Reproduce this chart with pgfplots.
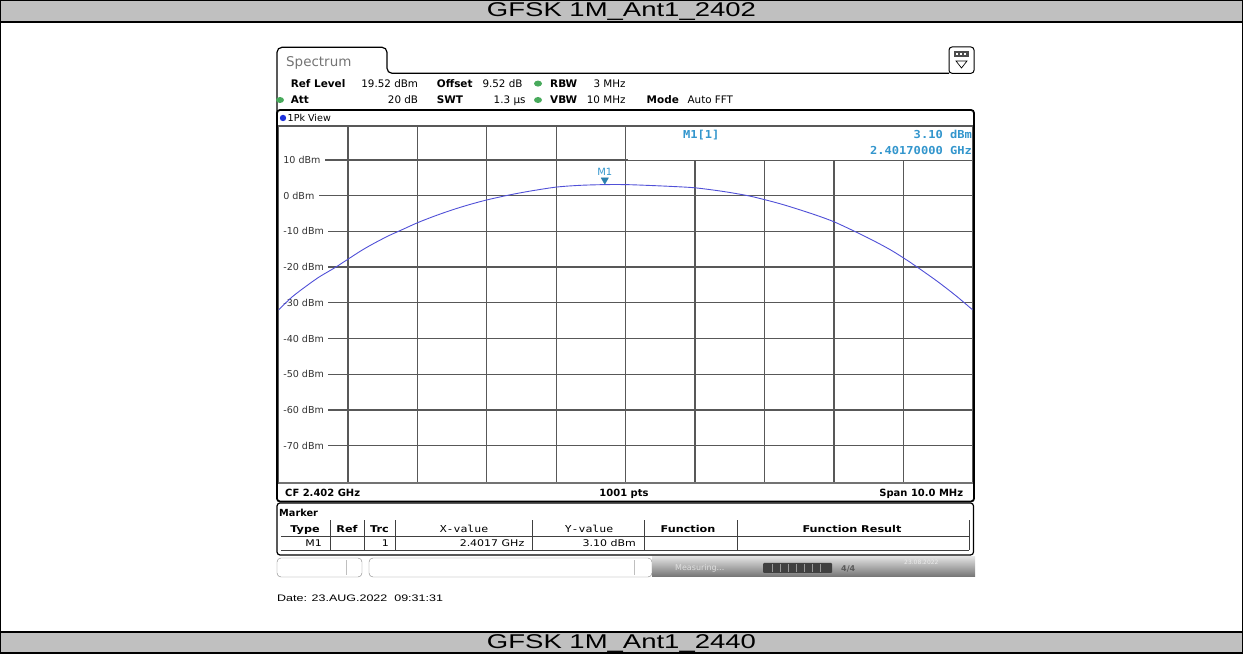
\documentclass[border=0pt]{standalone}
\usepackage{fontspec}
\usepackage{pgfplots}
\pgfplotsset{compat=1.18}
\setmainfont{DejaVu Sans}
\newfontfamily\dv{DejaVu Sans}
\newfontfamily\dvm{DejaVu Sans Mono}
\newfontfamily\tb[FakeStretch=1.2]{DejaVu Sans}
\newfontfamily\tbm[FakeStretch=1.2]{DejaVu Sans Mono}
\newfontfamily\mk[FakeStretch=1.1]{DejaVu Sans Mono}
\newfontfamily\hdr[FakeStretch=1.38]{Liberation Sans}
\newfontfamily\dt[FakeStretch=1.32]{Liberation Sans}
\newcommand\fs[1]{\fontsize{#1}{#1}\selectfont}
\definecolor{hgray}{RGB}{192,192,192}
\definecolor{gridc}{RGB}{88,88,88}
\definecolor{mkc}{RGB}{51,150,205}
\definecolor{trc}{RGB}{80,80,215}
\definecolor{grn}{RGB}{72,170,92}
\definecolor{bdot}{RGB}{30,50,220}
\begin{document}
\begin{tikzpicture}[
  tx/.style={inner sep=0pt, anchor=base west},
  txr/.style={inner sep=0pt, anchor=base east},
  txc/.style={inner sep=0pt, anchor=base},
  lab/.style={anchor=west, fill=white, inner xsep=4.5bp, inner ysep=0.6bp, xshift=0.1bp, font=\dv\fs{9.6}, text=black!80}]
\begin{scope}[x=1bp,y=1bp]
\path[use as bounding box] (0,0) rectangle (1243,654);
% title bands
\fill[hgray] (0,632) rectangle (1243,654);
\fill[hgray] (0,0) rectangle (1243,22);
\draw[line width=1.5bp] (0,632)--(1243,632);
\draw[line width=1.5bp] (0,22)--(1243,22);
\draw[line width=1.5bp] (0.75,0.75) rectangle (1242.25,653.25);
\node[txc, font=\hdr\fs{20}] at (621.5,637.6) {GFSK 1M\_Ant1\_2402};
\node[txc, font=\hdr\fs{20}] at (621.5,5.6) {GFSK 1M\_Ant1\_2440};
% tab
\draw[line width=1.2bp, rounded corners=5bp] (277,540) -- (277,606.7) -- (387,606.7) -- (387,580.7) -- (949,580.7);
\node[tx, font=\dv\fs{13.5}, text=black!55] at (286,587.4) {Spectrum};
% icon
\draw[line width=1bp, rounded corners=3bp] (949,580.7) rectangle (974,607);
\fill[black!70] (954,597) rectangle (969,603);
\fill[white] (956,599) rectangle (958,601);
\fill[white] (960,599) rectangle (962,601);
\fill[white] (964,599) rectangle (966,601);
\draw[line width=0.7bp] (956,593)--(967,593)--(961.5,586)--cycle;
% info lines
\node[tx, font=\dv\bfseries\fs{10.5}] at (290.6,566.7) {Ref Level};
\node[txr, font=\dv\fs{10.4}] at (418.3,566.7) {19.52 dBm};
\node[tx, font=\dv\bfseries\fs{10.5}] at (436.7,566.7) {Offset};
\node[tx, font=\dv\fs{10.4}] at (482.3,566.7) {9.52 dB};
\fill[grn] (538,570.4) ellipse (4 and 3);
\node[tx, font=\dv\bfseries\fs{10.5}] at (550,566.7) {RBW};
\node[tx, font=\dv\fs{10.4}] at (593.3,566.7) {3 MHz};
\fill[grn] (280,554) ellipse (4 and 3);
\node[tx, font=\dv\bfseries\fs{10.5}] at (290.6,550.2) {Att};
\node[txr, font=\dv\fs{10.4}] at (418.3,550.2) {20 dB};
\node[tx, font=\dv\bfseries\fs{10.5}] at (436.7,550.2) {SWT};
\node[txr, font=\dv\fs{10.4}] at (525.7,550.2) {1.3 µs};
\fill[grn] (538,554) ellipse (4 and 3);
\node[tx, font=\dv\bfseries\fs{10.5}] at (550,550.2) {VBW};
\node[tx, font=\dv\fs{10.4}] at (586.7,550.2) {10 MHz};
\node[tx, font=\dv\bfseries\fs{10.5}] at (646.5,550.2) {Mode};
\node[tx, font=\dv\fs{10.4}] at (687.4,550.2) {Auto FFT};
% panel
\draw[line width=1.8bp, rounded corners=3bp] (277,152.5) rectangle (974,544);
\fill[bdot] (283,536) circle (3.2);
\node[tx, font=\dv\fs{9.6}] at (287.5,532.6) {1Pk View};
\end{scope}
% spectrum axis (x = frequency in MHz)
\begin{axis}[at={(278.5bp,171bp)}, anchor=south west, scale only axis,
  width=694.2bp, height=357bp,
  xmin=2397, xmax=2407, ymin=-80.48, ymax=19.52,
  xtick={2398,2399,2400,2401,2402,2403,2404,2405,2406}, ytick={-70,-60,-50,-40,-30,-20,-10,0,10},
  xticklabels={}, yticklabels={}, major tick length=0pt,
  grid=major, grid style={draw=gridc, line width=1.3bp},
  axis line style={draw=gridc, line width=1.3bp},
  clip=true]
\node[lab] at (axis cs:2397,10) {10 dBm};
\node[lab] at (axis cs:2397,0) {0 dBm};
\node[lab] at (axis cs:2397,-10) {-10 dBm};
\node[lab] at (axis cs:2397,-20) {-20 dBm};
\node[lab] at (axis cs:2397,-30) {-30 dBm};
\node[lab] at (axis cs:2397,-40) {-40 dBm};
\node[lab] at (axis cs:2397,-50) {-50 dBm};
\node[lab] at (axis cs:2397,-60) {-60 dBm};
\node[lab] at (axis cs:2397,-70) {-70 dBm};
\addplot[trc, line width=0.9bp, smooth] coordinates {
(2397.00,-32.0) (2397.20,-28.3) (2397.43,-24.9) (2397.60,-22.6) (2397.81,-20.2)
(2398.00,-17.8) (2398.20,-15.3) (2398.39,-13.2) (2398.60,-11.1) (2398.75,-9.8)
(2399.00,-7.6) (2399.25,-5.7) (2399.50,-4.0) (2399.75,-2.5) (2400.00,-1.2)
(2400.30,0.1) (2400.60,1.2) (2401.00,2.4) (2401.35,2.9) (2401.70,3.1)
(2402.00,3.1) (2402.30,2.9) (2402.65,2.6) (2403.00,2.2) (2403.40,1.2)
(2403.76,0.0) (2404.00,-1.1) (2404.25,-2.4) (2404.50,-3.9) (2404.75,-5.5)
(2405.00,-7.3) (2405.30,-10.0) (2405.54,-12.3) (2405.80,-15.0) (2406.00,-17.4)
(2406.20,-20.0) (2406.49,-24.0) (2406.75,-27.9) (2407.00,-32.0)};
\addplot[only marks, mark=triangle*, mark size=4.2bp,
  mark options={yshift=4.6bp, rotate=180, fill=mkc!85!black, draw=mkc!85!black}]
  coordinates {(2401.7,3.1)};
\node[txc, font=\dv\fs{10}, text=mkc, yshift=9.6bp] at (axis cs:2401.7,3.1) {M1};
\end{axis}
\begin{scope}[x=1bp,y=1bp]
% marker info area
\fill[white] (627.9,494.3) rectangle (972,527.3);
\node[tx, font=\mk\bfseries\fs{11}, text=mkc] at (683,515) {M1[1]};
\node[txr, font=\mk\bfseries\fs{11}, text=mkc] at (972,515) {3.10 dBm};
\node[txr, font=\mk\bfseries\fs{11}, text=mkc] at (972,499) {2.40170000 GHz};
\draw[line width=2.6bp, black!55] (278.5,171)--(973,171);
% CF row
\node[tx, font=\dv\bfseries\fs{10}] at (285,157.5) {CF 2.402 GHz};
\node[txc, font=\dv\bfseries\fs{10}] at (624,157.5) {1001 pts};
\node[txr, font=\dv\bfseries\fs{10}] at (963.3,157.5) {Span 10.0 MHz};
% marker table
\draw[line width=1.2bp, rounded corners=3bp] (277,99) rectangle (973.5,151);
\node[tx, font=\dv\bfseries\fs{9.8}] at (279,137.7) {Marker};
\draw[black!75, line width=0.8bp] (281,118) -- (969,118);
\draw[black!75, line width=0.8bp] (281,104) -- (969,104);
\foreach \xx in {330,364,395,532.7,644.3,737.7,969} {\draw[black!75, line width=0.8bp] (\xx,133.5) -- (\xx,104);}
\node[txc, font=\tb\bfseries\fs{9.4}] at (305,121.8) {Type};
\node[txc, font=\tb\bfseries\fs{9.4}] at (347,121.8) {Ref};
\node[txc, font=\tb\bfseries\fs{9.4}] at (379.5,121.8) {Trc};
\node[txc, font=\tbm\fs{9.6}] at (464,121.8) {X-value};
\node[txc, font=\tbm\fs{9.6}] at (589,121.8) {Y-value};
\node[txc, font=\tb\bfseries\fs{9.4}] at (688,121.8) {Function};
\node[txc, font=\tb\bfseries\fs{9.4}] at (852,121.8) {Function Result};
\node[txr, font=\tb\fs{9.2}] at (322,107) {M1};
\node[txr, font=\tb\fs{9.2}] at (389,107) {1};
\node[txr, font=\tb\fs{9.2}] at (524.5,107) {2.4017 GHz};
\node[txr, font=\tb\fs{9.2}] at (636,107) {3.10 dBm};
% status bar
\draw[black!50, rounded corners=4bp, fill=white] (277,77) rectangle (362,96);
\draw[black!25] (346,79)--(346,94);
\draw[black!50, rounded corners=4bp, fill=white] (369,77) rectangle (652,96);
\draw[black!25] (634,79)--(634,94);
\shade[top color=black!12, bottom color=black!55] (652,77) rectangle (975,97);
\node[tx, font=\dv\fs{8}, text=white!75!gray] at (675,83) {Measuring...};
\fill[black!75, rounded corners=1bp] (763,81) rectangle (832,91);
\foreach \xx in {772,780,788,796,804,812,820} {\draw[black!40] (\xx,82)--(\xx,90);}
\node[tx, font=\dv\bfseries\fs{8}, text=black!65] at (841,82.5) {4/4};
\node[tx, font=\dv\fs{6}, text=white!85!gray] at (904,89) {23.08.2022};
% date
\node[tx, font=\dt\fs{9.5}] at (277,52.6) {Date: 23.AUG.2022\ \ 09:31:31};
\end{scope}
\end{tikzpicture}
\end{document}
